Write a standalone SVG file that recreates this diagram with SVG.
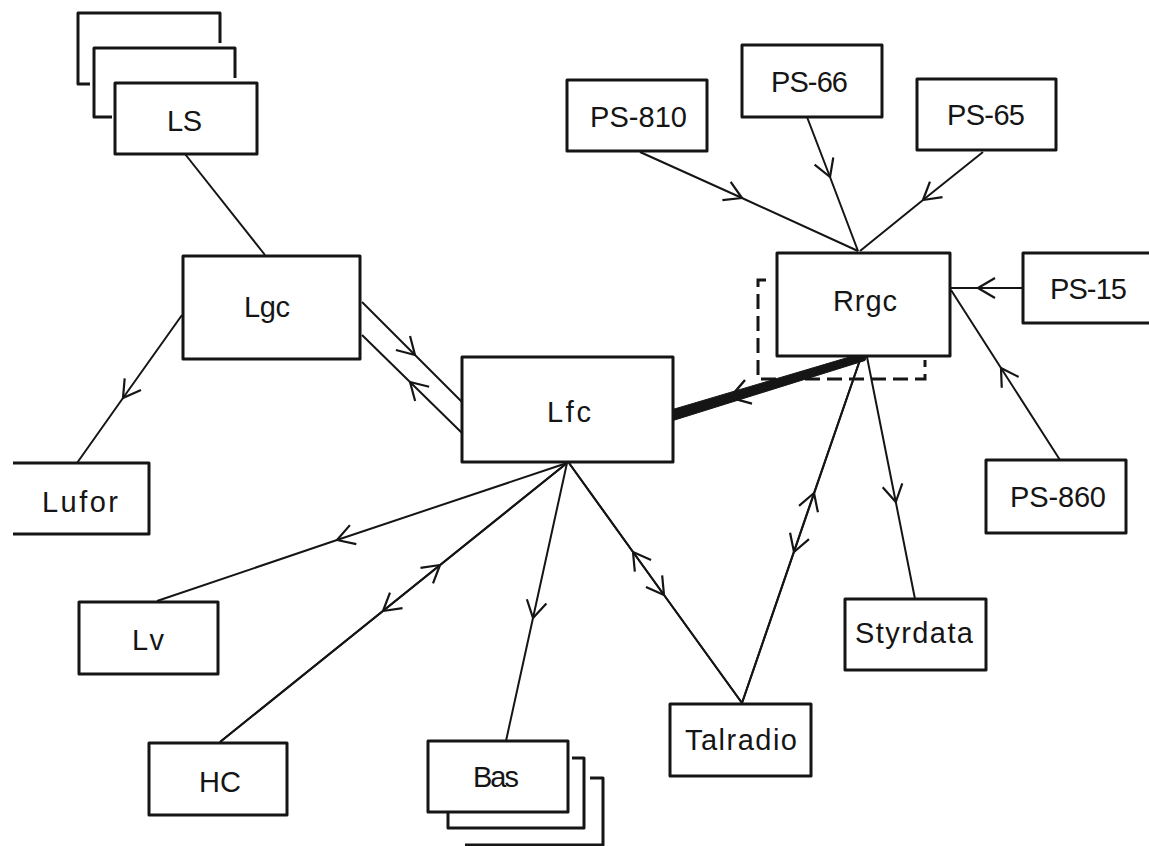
<svg xmlns="http://www.w3.org/2000/svg" width="1149" height="846" viewBox="0 0 1149 846">
<style>
.box{fill:#fff;stroke:#151515;stroke-width:3;stroke-linejoin:round}
.stk{fill:none;stroke:#151515;stroke-width:3;stroke-linejoin:round}
.ln{fill:none;stroke:#151515;stroke-width:2}
.thick{fill:#151515;stroke:#151515;stroke-width:1}
.dash{fill:none;stroke:#151515;stroke-width:3;stroke-dasharray:15 7}
.lbl{font-family:"Liberation Sans",Arial,sans-serif;font-size:29px;fill:#151515}
</style>
<defs>
<marker id="arr" markerUnits="userSpaceOnUse" markerWidth="40" markerHeight="40" refX="0" refY="0" viewBox="-20 -20 40 40" orient="auto" overflow="visible">
<path d="M -17 -10 L 0 0 L -17 10" fill="none" stroke="#151515" stroke-width="2.2" stroke-linejoin="round"/>
</marker>
</defs>
<rect width="1149" height="846" fill="#fff"/>
<g id="connectors">
<path class="ln" d="M 185 154 L 265 255"/>
<path class="ln" d="M 182 315 L 123 398 L 77 463" marker-mid="url(#arr)"/>
<path class="ln" d="M 362 302 L 415 355 L 462 402" marker-mid="url(#arr)"/>
<path class="ln" d="M 462 433 L 410 382 L 362 335" marker-mid="url(#arr)"/>
<path class="ln" d="M 640 152 L 742 198 L 858 251" marker-mid="url(#arr)"/>
<path class="ln" d="M 807 117 L 830 177 L 858 251" marker-mid="url(#arr)"/>
<path class="ln" d="M 983 152 L 923 200 L 860 251" marker-mid="url(#arr)"/>
<path class="ln" d="M 1023 288 L 978 288 L 951 288" marker-mid="url(#arr)"/>
<path class="ln" d="M 1060 460 L 1001 368 L 951 290" marker-mid="url(#arr)"/>
<path class="ln" d="M 867 357 L 895.8 502 L 915 599" marker-mid="url(#arr)"/>
<path class="ln" d="M 742 703 L 814 493 L 861 357" marker-mid="url(#arr)"/>
<path class="ln" d="M 861 357 L 794 552 L 742 703" marker-mid="url(#arr)"/>
<path class="ln" d="M 742 703 L 633 552 L 569 463" marker-mid="url(#arr)"/>
<path class="ln" d="M 569 463 L 664 595 L 742 703" marker-mid="url(#arr)"/>
<path class="ln" d="M 567 463 L 337 540 L 157 601" marker-mid="url(#arr)"/>
<path class="ln" d="M 220 742 L 440 565 L 567 463" marker-mid="url(#arr)"/>
<path class="ln" d="M 567 463 L 383 611 L 220 742" marker-mid="url(#arr)"/>
<path class="ln" d="M 567 463 L 533 618 L 506 741" marker-mid="url(#arr)"/>
<path class="dash" d="M 766 280 L 758 280 L 758 379 L 925 379 L 925 360"/>
<polygon class="thick" points="868,351.5 865,360.5 666,422.7 670,410.3"/>
<path d="M 745 380 L 730 397.6 L 752 403.6" fill="none" stroke="#151515" stroke-width="2.4" stroke-linejoin="round"/>
</g>
<g id="LS">
<path class="stk" d="M 90 84 L 78 84 L 78 13 L 220 13 L 220 43"/>
<path class="stk" d="M 112 117 L 94 117 L 94 48 L 235 48 L 235 78"/>
<rect class="box" x="115" y="83" width="142" height="71"/>
<text class="lbl" x="167" y="131" textLength="35">LS</text>
</g>
<g id="Lgc">
<rect class="box" x="183" y="256" width="177" height="103"/>
<text class="lbl" x="244" y="317" textLength="46">Lgc</text>
</g>
<g id="Lufor">
<path class="box" d="M 13 463 L 149 463 L 149 534 L 13 534"/>
<text class="lbl" x="42" y="512" textLength="76">Lufor</text>
</g>
<g id="Lfc">
<rect class="box" x="462" y="357" width="211" height="105"/>
<text class="lbl" x="547" y="422" textLength="44">Lfc</text>
</g>
<g id="Lv">
<rect class="box" x="79" y="602" width="139" height="72"/>
<text class="lbl" x="132" y="650" textLength="32">Lv</text>
</g>
<g id="HC">
<rect class="box" x="149" y="743" width="138" height="72"/>
<text class="lbl" x="199" y="792" textLength="42">HC</text>
</g>
<g id="Bas">
<path class="stk" d="M 465 845 L 603 845 L 603 778 L 590 778"/>
<path class="box" d="M 448 812 L 448 828 L 584 828 L 584 758 L 572 758"/>
<rect class="box" x="428" y="741" width="140" height="71"/>
<text class="lbl" x="473" y="787" textLength="46">Bas</text>
</g>
<g id="Talradio">
<rect class="box" x="670" y="704" width="141" height="72"/>
<text class="lbl" x="685" y="750" textLength="112">Talradio</text>
</g>
<g id="Styrdata">
<rect class="box" x="845" y="599" width="141" height="71"/>
<text class="lbl" x="855" y="643" textLength="118">Styrdata</text>
</g>
<g id="Rrgc">
<rect class="box" x="777" y="253" width="173" height="103"/>
<text class="lbl" x="833" y="311" textLength="64">Rrgc</text>
</g>
<g id="PS-810">
<rect class="box" x="567" y="80" width="140" height="71"/>
<text class="lbl" x="590" y="127" textLength="97">PS-810</text>
</g>
<g id="PS-66">
<rect class="box" x="742" y="45" width="140" height="72"/>
<text class="lbl" x="771" y="92" textLength="77">PS-66</text>
</g>
<g id="PS-65">
<rect class="box" x="917" y="79" width="139" height="71"/>
<text class="lbl" x="947" y="125" textLength="78">PS-65</text>
</g>
<g id="PS-15">
<path class="box" d="M 1152 253 L 1023 253 L 1023 323 L 1152 323"/>
<text class="lbl" x="1050" y="299" textLength="77">PS-15</text>
</g>
<g id="PS-860">
<rect class="box" x="986" y="460" width="140" height="73"/>
<text class="lbl" x="1010" y="507" textLength="96">PS-860</text>
</g>
</svg>
